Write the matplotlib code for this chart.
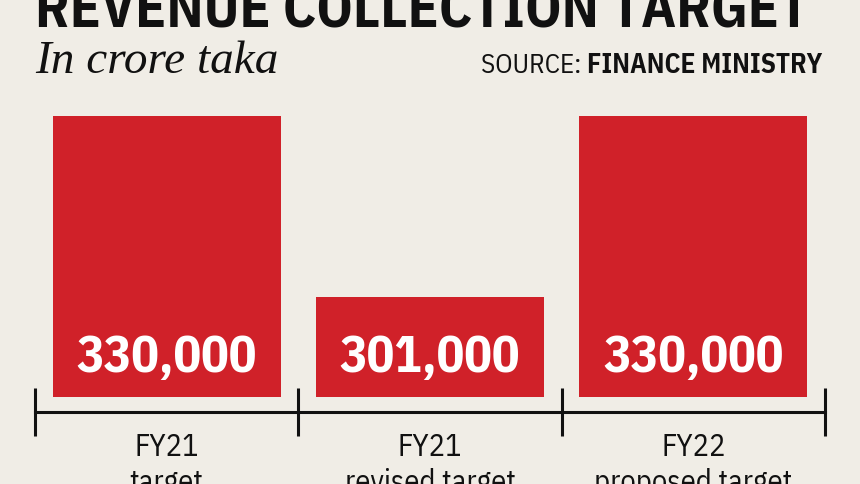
import matplotlib
matplotlib.use('Agg')
import matplotlib.pyplot as plt
import matplotlib.transforms as mtransforms

years = ['FY21', 'FY21', 'FY22']
kinds = ['target', 'revised target', 'proposed target']
values = [330000, 301000, 330000]
value_labels = ['330,000', '301,000', '330,000']

bg = '#f0ede6'
red = '#d02129'
narrow = ['IBM Plex Sans Condensed', 'DejaVu Sans']

W, H = 860, 484
fig = plt.figure(figsize=(W / 100, H / 100), dpi=100, facecolor=bg)

# plot area: bars from y=397 (bottom) to y=116 (top of tallest bar), x 35..825
ax = fig.add_axes([35 / W, 1 - 397 / H, 790 / W, (397 - 116) / H])
ax.set_facecolor(bg)
x = range(len(values))
ax.bar(x, values, width=0.867, color=red, bottom=0)
ax.set_xlim(-0.5, 2.5)
ax.set_ylim(285000, 330000)

for s in ['top', 'left', 'right']:
    ax.spines[s].set_visible(False)
ax.spines['bottom'].set_position(('outward', 15 * 72 / 100))
ax.spines['bottom'].set_linewidth(2.2)
ax.spines['bottom'].set_color('#111111')
ax.set_yticks([])
ax.set_xticks([-0.5, 0.5, 1.5, 2.5])
ax.set_xticklabels([])
ax.tick_params(axis='x', direction='inout', length=47 * 72 / 100, width=2.2, color='#111111')

trans = mtransforms.blended_transform_factory(ax.transData, fig.transFigure)
for i, lab in enumerate(value_labels):
    ax.text(i, 1 - 372 / H, lab, transform=trans, ha='center', va='baseline',
            color='white', fontsize=37, fontweight='bold', family=narrow)
for i in x:
    ax.text(i, 1 - 456 / H, years[i], transform=trans, ha='center', va='baseline',
            color='#111111', fontsize=22, family=narrow)
    ax.text(i, 1 - 492 / H, kinds[i], transform=trans, ha='center', va='baseline',
            color='#111111', fontsize=22, family=narrow)

# header texts
fig.text(35 / W, 1 - 28 / H, 'REVENUE COLLECTION TARGET', ha='left', va='baseline',
         fontsize=41, fontweight='bold', family=narrow, color='#111111')
fig.text(35 / W, 1 - 73 / H, 'In crore taka', ha='left', va='baseline',
         fontsize=34, style='italic', family=['Liberation Serif', 'DejaVu Serif'], color='#111111')
t1 = fig.text(822 / W, 1 - 73 / H, 'FINANCE MINISTRY', ha='right', va='baseline',
              fontsize=19.5, fontweight='bold', family=narrow, color='#111111')
fig.canvas.draw()
bb = t1.get_window_extent()
fig.text(bb.x0 / W, 1 - 73 / H, 'SOURCE: ', ha='right', va='baseline',
         fontsize=19.5, family=narrow, color='#111111')

fig.savefig('out.png', dpi=100, facecolor=bg)
